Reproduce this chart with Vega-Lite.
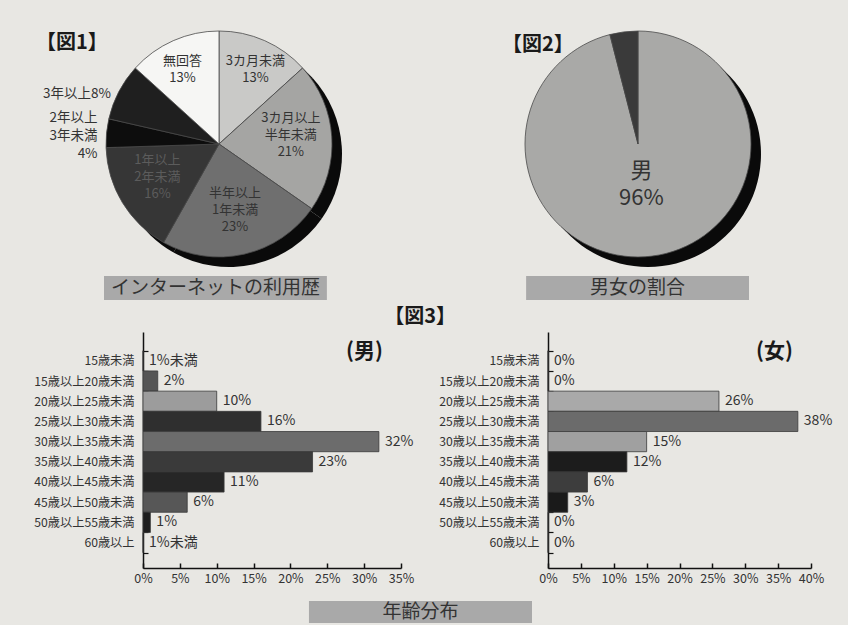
{
  "$schema": "https://vega.github.io/schema/vega-lite/v6.json",
  "background": "#e8e7e3",
  "padding": {"left": 33, "top": 11, "right": 0, "bottom": 3},
  "config": {"font": "Noto Sans CJK JP", "view": {"stroke": null}},
  "datasets": {
    "history": [
      {"cat": "3カ月未満", "pct": 13, "label": "3カ月未満\n13%", "k": 1},
      {"cat": "3カ月以上半年未満", "pct": 21, "label": "3カ月以上\n半年未満\n21%", "k": 2},
      {"cat": "半年以上1年未満", "pct": 23, "label": "半年以上\n1年未満\n23%", "k": 3},
      {"cat": "1年以上2年未満", "pct": 16, "label": "1年以上\n2年未満\n16%", "k": 4},
      {"cat": "2年以上3年未満", "pct": 4, "label": "2年以上\n3年未満\n4%", "k": 5},
      {"cat": "3年以上", "pct": 8, "label": "3年以上8%", "k": 6},
      {"cat": "無回答", "pct": 13, "label": "無回答\n13%", "k": 7}
    ],
    "gender": [
      {"sex": "男", "pct": 96, "label": "男\n96%", "k": 1},
      {"sex": "女", "pct": 4, "label": "女\n4%", "k": 2}
    ],
    "captions": [
      {"caption": "インターネットの利用歴"},
      {"caption": "男女の割合"}
    ],
    "male": [
      {"age": "15歳未満", "pct": 0, "label": "1%未満"},
      {"age": "15歳以上20歳未満", "pct": 2, "label": "2%"},
      {"age": "20歳以上25歳未満", "pct": 10, "label": "10%"},
      {"age": "25歳以上30歳未満", "pct": 16, "label": "16%"},
      {"age": "30歳以上35歳未満", "pct": 32, "label": "32%"},
      {"age": "35歳以上40歳未満", "pct": 23, "label": "23%"},
      {"age": "40歳以上45歳未満", "pct": 11, "label": "11%"},
      {"age": "45歳以上50歳未満", "pct": 6, "label": "6%"},
      {"age": "50歳以上55歳未満", "pct": 1, "label": "1%"},
      {"age": "60歳以上", "pct": 0, "label": "1%未満"}
    ],
    "female": [
      {"age": "15歳未満", "pct": 0, "label": "0%"},
      {"age": "15歳以上20歳未満", "pct": 0, "label": "0%"},
      {"age": "20歳以上25歳未満", "pct": 26, "label": "26%"},
      {"age": "25歳以上30歳未満", "pct": 38, "label": "38%"},
      {"age": "30歳以上35歳未満", "pct": 15, "label": "15%"},
      {"age": "35歳以上40歳未満", "pct": 12, "label": "12%"},
      {"age": "40歳以上45歳未満", "pct": 6, "label": "6%"},
      {"age": "45歳以上50歳未満", "pct": 3, "label": "3%"},
      {"age": "50歳以上55歳未満", "pct": 0, "label": "0%"},
      {"age": "60歳以上", "pct": 0, "label": "0%"}
    ]
  },
  "spacing": 7,
  "resolve": {"scale": {"color": "independent", "theta": "independent"}},
  "vconcat": [
    {
      "spacing": 0,
      "resolve": {"scale": {"color": "independent", "theta": "independent"}},
      "vconcat": [
        {
          "spacing": 132,
          "bounds": "flush",
          "resolve": {"scale": {"color": "independent", "theta": "independent"}},
          "hconcat": [
            {
              "width": 152,
              "height": 262,
              "data": {"name": "history"},
              "title": {"text": "【図1】", "anchor": "start", "frame": "group", "offset": -42, "dx": -107, "fontSize": 20, "fontWeight": "bold", "color": "#1a1a1a"},
              "encoding": {
                "theta": {"field": "pct", "type": "quantitative", "stack": true},
                "order": {"field": "k", "type": "quantitative"}
              },
              "layer": [
                {"mark": {"type": "arc", "outerRadius": 113, "xOffset": 10, "yOffset": 10, "color": "#0a0a0a"}},
                {
                  "mark": {"type": "arc", "outerRadius": 113, "stroke": "#4a4a4a", "strokeWidth": 0.8},
                  "encoding": {
                    "color": {"field": "cat", "type": "nominal", "legend": null,
                      "scale": {"domain": ["3カ月未満", "3カ月以上半年未満", "半年以上1年未満", "1年以上2年未満", "2年以上3年未満", "3年以上", "無回答"],
                                "range": ["#c9c9c7", "#a5a5a3", "#6f6f6f", "#363636", "#0d0d0d", "#1f1f1f", "#f6f6f4"]}}
                  }
                },
                {
                  "mark": {"type": "text", "radius": 90, "dy": -1, "fontSize": 13, "lineBreak": "\n", "lineHeight": 17, "color": "#333333", "baseline": "middle"},
                  "encoding": {
                    "text": {"condition": {"test": "datum.cat !== '3カ月未満' && datum.cat !== '無回答'", "value": ""}, "field": "label", "type": "nominal"}
                  }
                },
                {
                  "mark": {"type": "text", "radius": 72, "dy": -21, "fontSize": 13, "lineBreak": "\n", "lineHeight": 17, "baseline": "middle"},
                  "encoding": {
                    "text": {"condition": {"test": "datum.cat !== '3カ月以上半年未満' && datum.cat !== '半年以上1年未満' && datum.cat !== '1年以上2年未満'", "value": ""}, "field": "label", "type": "nominal"},
                    "color": {"condition": {"test": "datum.cat === '1年以上2年未満'", "value": "#5c5c5c"}, "value": "#333333"}
                  }
                },
                {
                  "mark": {"type": "text", "radius": 122, "dy": -14, "align": "right", "fontSize": 13.5, "lineBreak": "\n", "lineHeight": 18, "color": "#333333", "baseline": "middle"},
                  "encoding": {
                    "text": {"condition": {"test": "datum.cat !== '2年以上3年未満'", "value": ""}, "field": "label", "type": "nominal"}
                  }
                },
                {
                  "mark": {"type": "text", "radius": 122, "dy": 6, "align": "right", "fontSize": 13.5, "color": "#333333", "baseline": "middle"},
                  "encoding": {
                    "text": {"condition": {"test": "datum.cat !== '3年以上'", "value": ""}, "field": "label", "type": "nominal"}
                  }
                }
              ]
            },
            {
              "width": 422,
              "height": 262,
              "data": {"name": "gender"},
              "title": {"text": "【図2】", "anchor": "start", "frame": "group", "offset": -42, "dx": 75, "fontSize": 20, "fontWeight": "bold", "color": "#1a1a1a"},
              "encoding": {
                "theta": {"field": "pct", "type": "quantitative", "stack": true},
                "order": {"field": "k", "type": "quantitative"}
              },
              "layer": [
                {"mark": {"type": "arc", "outerRadius": 113, "xOffset": 10, "yOffset": 10, "color": "#0a0a0a"}},
                {
                  "mark": {"type": "arc", "outerRadius": 113, "stroke": "#4a4a4a", "strokeWidth": 0.8},
                  "encoding": {
                    "color": {"field": "sex", "type": "nominal", "legend": null,
                      "scale": {"domain": ["男", "女"], "range": ["#a9a9a7", "#3a3a3a"]}}
                  }
                },
                {
                  "mark": {"type": "text", "radius": 27, "fontSize": 22, "lineBreak": "\n", "lineHeight": 27, "color": "#333333", "baseline": "middle"},
                  "encoding": {
                    "text": {"condition": {"test": "datum.sex === '女'", "value": ""}, "field": "label", "type": "nominal"}
                  }
                }
              ]
            }
          ]
        },
        {
          "width": 606,
          "height": 24,
          "data": {"name": "captions"},
          "encoding": {
            "x": {"field": "caption", "type": "nominal", "sort": null, "axis": null,
              "scale": {"range": [-39, 606], "paddingInner": 0.472, "paddingOuter": 0}}
          },
          "layer": [
            {"mark": {"type": "bar", "color": "#a9a9a9"}},
            {"mark": {"type": "text", "fontSize": 19, "color": "#333333", "baseline": "middle"},
             "encoding": {"text": {"field": "caption", "type": "nominal"}}}
          ]
        }
      ]
    },
    {
      "spacing": 16,
      "resolve": {"scale": {"color": "independent", "theta": "independent"}},
      "vconcat": [
        {
          "spacing": 147,
          "bounds": "flush",
          "title": {"text": "【図3】", "anchor": "middle", "offset": -1, "dx": -13, "fontSize": 20, "fontWeight": "bold", "color": "#1a1a1a"},
          "resolve": {"scale": {"color": "independent"}},
          "hconcat": [
            {
              "width": 258,
              "height": 236,
              "data": {"name": "male"},
              "title": {"text": "(男)", "anchor": "end", "frame": "group", "offset": -36, "dx": -18, "fontSize": 21, "fontWeight": "bold", "color": "#1a1a1a"},
              "encoding": {
                "y": {"field": "age", "type": "nominal", "sort": null,
                  "scale": {"paddingInner": 0, "paddingOuter": 0.845, "align": 0.55},
                  "axis": {"title": null, "labelFontSize": 12.2, "labelColor": "#333333", "domainColor": "#111111", "domainWidth": 1.5, "tickColor": "#111111", "tickWidth": 1.2, "tickSize": -5, "tickBand": "extent", "labelPadding": 14}},
                "x": {"field": "pct", "type": "quantitative", "scale": {"domain": [0, 35]},
                  "axis": {"values": [0, 5, 10, 15, 20, 25, 30, 35], "labelExpr": "datum.value + '%'", "labelOverlap": false, "grid": false, "title": null, "domainColor": "#111111", "domainWidth": 1.5, "tickColor": "#111111", "tickWidth": 1.5, "tickSize": -5, "labelFontSize": 12.5, "labelColor": "#333333", "labelPadding": 9, "labelFlush": false}}
              },
              "layer": [
                {
                  "mark": {"type": "bar", "stroke": "#3a3a3a", "strokeWidth": 0.8},
                  "encoding": {
                    "color": {"field": "age", "type": "nominal", "legend": null,
                      "scale": {"domain": ["15歳未満", "15歳以上20歳未満", "20歳以上25歳未満", "25歳以上30歳未満", "30歳以上35歳未満", "35歳以上40歳未満", "40歳以上45歳未満", "45歳以上50歳未満", "50歳以上55歳未満", "60歳以上"],
                                "range": ["#555555", "#555555", "#9c9c9c", "#2f2f2f", "#6c6c6c", "#3a3a3a", "#262626", "#575757", "#1e1e1e", "#555555"]}}
                  }
                },
                {
                  "mark": {"type": "text", "align": "left", "dx": 6, "fontSize": 14, "color": "#333333", "baseline": "middle"},
                  "encoding": {"text": {"field": "label", "type": "nominal"}}
                }
              ]
            },
            {
              "width": 263,
              "height": 236,
              "data": {"name": "female"},
              "title": {"text": "(女)", "anchor": "end", "frame": "group", "offset": -36, "dx": -18, "fontSize": 21, "fontWeight": "bold", "color": "#1a1a1a"},
              "encoding": {
                "y": {"field": "age", "type": "nominal", "sort": null,
                  "scale": {"paddingInner": 0, "paddingOuter": 0.845, "align": 0.55},
                  "axis": {"title": null, "labelFontSize": 12.2, "labelColor": "#333333", "domainColor": "#111111", "domainWidth": 1.5, "tickColor": "#111111", "tickWidth": 1.2, "tickSize": -5, "tickBand": "extent", "labelPadding": 14}},
                "x": {"field": "pct", "type": "quantitative", "scale": {"domain": [0, 40]},
                  "axis": {"values": [0, 5, 10, 15, 20, 25, 30, 35, 40], "labelExpr": "datum.value + '%'", "labelOverlap": false, "grid": false, "title": null, "domainColor": "#111111", "domainWidth": 1.5, "tickColor": "#111111", "tickWidth": 1.5, "tickSize": -5, "labelFontSize": 12.5, "labelColor": "#333333", "labelPadding": 9, "labelFlush": false}}
              },
              "layer": [
                {
                  "mark": {"type": "bar", "stroke": "#3a3a3a", "strokeWidth": 0.8},
                  "encoding": {
                    "color": {"field": "age", "type": "nominal", "legend": null,
                      "scale": {"domain": ["15歳未満", "15歳以上20歳未満", "20歳以上25歳未満", "25歳以上30歳未満", "30歳以上35歳未満", "35歳以上40歳未満", "40歳以上45歳未満", "45歳以上50歳未満", "50歳以上55歳未満", "60歳以上"],
                                "range": ["#555555", "#555555", "#a9a9a9", "#6b6b6b", "#a0a0a0", "#1c1c1c", "#3d3d3d", "#1a1a1a", "#555555", "#555555"]}}
                  }
                },
                {
                  "mark": {"type": "text", "align": "left", "dx": 6, "fontSize": 14, "color": "#333333", "baseline": "middle"},
                  "encoding": {"text": {"field": "label", "type": "nominal"}}
                }
              ]
            }
          ]
        },
        {
          "width": 389,
          "height": 22,
          "data": {"values": [{"caption": "年齢分布"}]},
          "encoding": {
            "x": {"field": "caption", "type": "nominal", "axis": null,
              "scale": {"paddingInner": 0, "paddingOuter": 0.372, "align": 1}}
          },
          "layer": [
            {"mark": {"type": "bar", "color": "#a9a9a9"}},
            {"mark": {"type": "text", "fontSize": 19, "color": "#333333", "baseline": "middle"},
             "encoding": {"text": {"field": "caption", "type": "nominal"}}}
          ]
        }
      ]
    }
  ]
}
